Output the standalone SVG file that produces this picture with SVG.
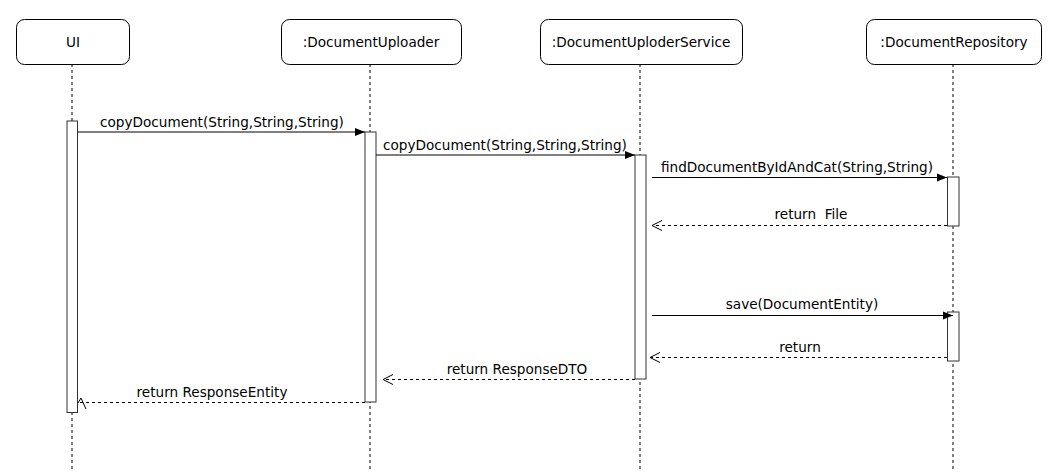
<svg xmlns="http://www.w3.org/2000/svg" width="1059" height="472" viewBox="0 0 1059 472">
<defs>
<style>
.box{fill:#fff;stroke:#000;stroke-width:1}
.lbl{font-family:"DejaVu Sans","Liberation Sans",sans-serif;font-size:13.6px;fill:#000;text-anchor:middle;white-space:pre}
.life{stroke:#000;stroke-width:1;stroke-dasharray:3,3}
.act{fill:#fff;stroke:#333;stroke-width:1}
.msg{stroke:#000;stroke-width:1;fill:none}
.ret{stroke:#000;stroke-width:1;fill:none;stroke-dasharray:3,3}
</style>
<marker id="filled" viewBox="0 0 10 10" refX="10" refY="5" markerWidth="10" markerHeight="10" markerUnits="userSpaceOnUse" orient="auto">
<path d="M0,1 L10,5 L0,9 Z" fill="#000"/>
</marker>
<marker id="open" viewBox="0 0 12 12" refX="11" refY="6" markerWidth="12" markerHeight="12" markerUnits="userSpaceOnUse" orient="auto">
<path d="M1,1 L11,6 L1,11" fill="none" stroke="#000" stroke-width="1"/>
</marker>
</defs>
<rect width="1059" height="472" fill="#fff"/>

<g id="lifelines">
<line class="life" x1="72" y1="64" x2="72" y2="472"/>
<line class="life" x1="370" y1="64" x2="370" y2="472"/>
<line class="life" x1="640" y1="64" x2="640" y2="472"/>
<line class="life" x1="953" y1="64" x2="953" y2="472"/>
</g>

<g id="node-ui">
<rect class="box" x="16.5" y="19.5" width="113" height="45" rx="8"/>
<text class="lbl" x="73" y="47">UI</text>
</g>
<g id="node-uploader">
<rect class="box" x="281.5" y="19.5" width="180" height="45" rx="8"/>
<text class="lbl" x="371" y="47">:DocumentUploader</text>
</g>
<g id="node-service">
<rect class="box" x="540.5" y="19.5" width="202" height="45" rx="8"/>
<text class="lbl" x="641" y="47">:DocumentUploderService</text>
</g>
<g id="node-repo">
<rect class="box" x="866.5" y="19.5" width="175" height="45" rx="8"/>
<text class="lbl" x="954" y="47">:DocumentRepository</text>
</g>

<g id="activations">
<rect class="act" x="67" y="121" width="10.5" height="291.5"/>
<rect class="act" x="365" y="132" width="11" height="270"/>
<rect class="act" x="635" y="155" width="11" height="224"/>
<rect class="act" x="947.5" y="177" width="11.5" height="49"/>
<rect class="act" x="947.5" y="312" width="11.5" height="49"/>
</g>

<g id="connectors">
<line class="msg" x1="77.5" y1="132" x2="365" y2="132" marker-end="url(#filled)"/>
<text class="lbl" x="222" y="127">copyDocument(String,String,String)</text>

<line class="msg" x1="376" y1="155" x2="635" y2="155" marker-end="url(#filled)"/>
<text class="lbl" x="505" y="150">copyDocument(String,String,String)</text>

<line class="msg" x1="652" y1="177.5" x2="947" y2="177.5" marker-end="url(#filled)"/>
<text class="lbl" x="797" y="172">findDocumentByIdAndCat(String,String)</text>

<line class="ret" x1="947" y1="225.5" x2="652" y2="225.5" marker-end="url(#open)"/>
<text class="lbl" x="811" y="219">return  File</text>

<line class="msg" x1="652" y1="315.5" x2="953" y2="315.5" marker-end="url(#filled)"/>
<text class="lbl" x="802" y="309">save(DocumentEntity)</text>

<line class="ret" x1="947" y1="357.5" x2="650" y2="357.5" marker-end="url(#open)"/>
<text class="lbl" x="800" y="352">return</text>

<line class="ret" x1="635" y1="379.5" x2="383" y2="379.5" marker-end="url(#open)"/>
<text class="lbl" x="517" y="374">return ResponseDTO</text>

<line class="ret" x1="365" y1="402.5" x2="78" y2="402.5"/>
<path class="msg" d="M78,403 L81,398 L86,409"/>
<text class="lbl" x="212" y="397">return ResponseEntity</text>
</g>
</svg>
